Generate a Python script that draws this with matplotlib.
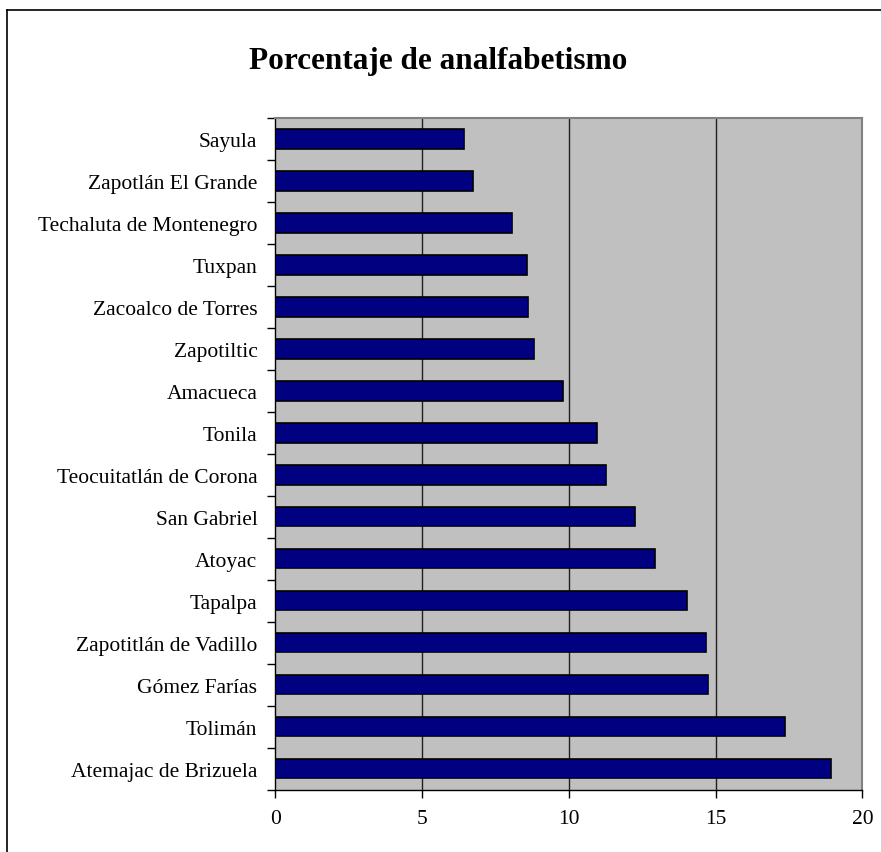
import numpy as np
import matplotlib.pyplot as plt
from matplotlib.lines import Line2D

municipios = ["Atemajac de Brizuela", "Tolimán", "Gómez Farías", "Zapotitlán de Vadillo",
              "Tapalpa", "Atoyac", "San Gabriel", "Teocuitatlán de Corona", "Tonila",
              "Amacueca", "Zapotiltic", "Zacoalco de Torres", "Tuxpan",
              "Techaluta de Montenegro", "Zapotlán El Grande", "Sayula"]
analfabetismo = [18.92, 17.35, 14.72, 14.66, 14.02, 12.94, 12.26, 11.26, 10.95,
                 9.81, 8.81, 8.62, 8.56, 8.05, 6.72, 6.41]
x_ticks = [0, 5, 10, 15, 20]

plt.rcParams['font.family'] = ['Liberation Serif', 'DejaVu Serif']

fig = plt.figure(figsize=(8.81, 8.53), dpi=100)
ax = fig.add_axes([0.3127, 0.0730, 0.9790 - 0.3127, 0.8605 - 0.0730])

y = np.arange(len(municipios))
ax.barh(y, analfabetismo, height=0.46, color='#000080', edgecolor='black', linewidth=1.2, zorder=3)

ax.set_facecolor('#C0C0C0')
ax.set_xlim(0, 20)
ax.set_ylim(-0.5, len(municipios) - 0.5)

ax.set_xticks(x_ticks)
ax.set_xticklabels([str(t) for t in x_ticks], fontsize=15.5)
ax.tick_params(axis='x', direction='out', length=6, width=1, pad=8, color='black')

ax.set_yticks(y)
ax.set_yticklabels(municipios, fontsize=15.5)
ax.set_yticks(np.arange(-0.5, len(municipios), 1), minor=True)
ax.tick_params(axis='y', which='major', length=0, pad=13)
ax.tick_params(axis='y', which='minor', direction='out', length=6, width=1, color='black')

for g in x_ticks[1:-1]:
    ax.axvline(g, color='#202020', linewidth=1, zorder=1)

for side in ['top', 'right']:
    ax.spines[side].set_color('#808080')
    ax.spines[side].set_linewidth(1.5)
for side in ['left', 'bottom']:
    ax.spines[side].set_color('black')
    ax.spines[side].set_linewidth(1)

fig.text(0.497, 0.928, "Porcentaje de analfabetismo", ha='center', va='center',
         fontsize=22.5, fontweight='bold')

# chart border (right and bottom sides fall outside the image)
fig.add_artist(Line2D([0.0085, 0.0085], [0, 0.9875], color='black', linewidth=1.2,
                      transform=fig.transFigure))
fig.add_artist(Line2D([0.0085, 1.0], [0.9875, 0.9875], color='black', linewidth=1.2,
                      transform=fig.transFigure))

fig.savefig('out.png', dpi=100)
